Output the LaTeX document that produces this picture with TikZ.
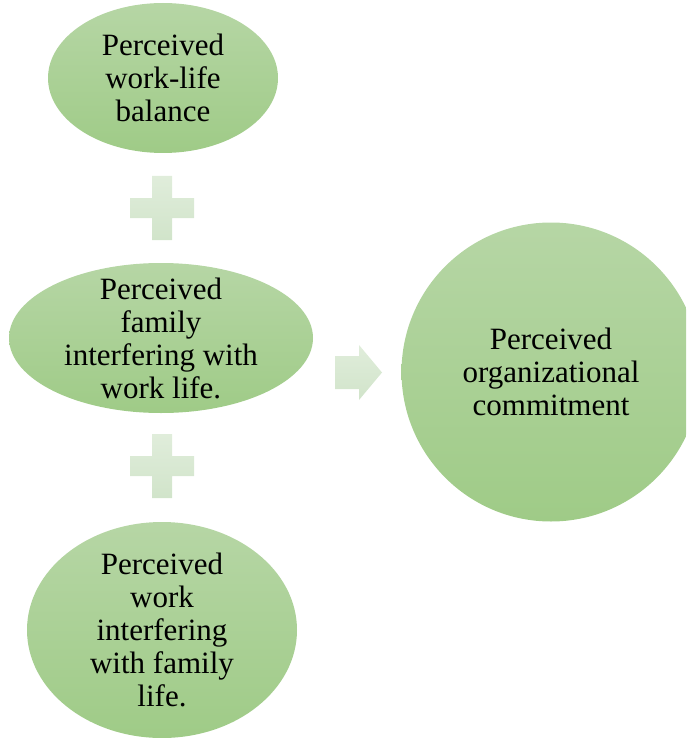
\documentclass[tikz,border=0pt]{standalone}
\usepackage{fontspec}
\setmainfont{Liberation Serif}
\usetikzlibrary{shapes,positioning}
\definecolor{blobtop}{RGB}{182,214,165}
\definecolor{blobbot}{RGB}{159,203,135}
\definecolor{signtop}{RGB}{224,237,219}
\definecolor{signbot}{RGB}{209,228,202}
\newcommand{\armlen}{32}
\newcommand{\armwid}{10}
\tikzset{
    bubble/.style = {ellipse, inner sep = 0pt, top color = blobtop, bottom color = blobbot},
    bubtext/.style = {align = center, font = \fontsize{31}{33}\selectfont},
    sign/.style = {top color = signtop, bottom color = signbot}
}

\begin{document}
\begin{tikzpicture}[x=1pt,y=-1pt]
            \path[use as bounding box, clip] (0,0) rectangle (686,738);
            % the three factors
            \node[bubble, minimum width=230pt, minimum height=150pt] (wlb) at (163,78) {};
            \node[bubble, minimum width=304pt, minimum height=150pt] (fiw) at (161,338) {};
            \node[bubble, minimum width=270pt, minimum height=216pt] (wif) at (162,630) {};
            \node[bubble, minimum width=299pt, minimum height=299pt] (oc) at (551,372) {};
            
            \node[bubtext] at (wlb) {Perceived\\work-life\\balance};
            \node[bubtext] at (fiw) {Perceived\\family\\interfering with\\work life.};
            \node[bubtext] at (wif) {Perceived\\work\\interfering\\with family\\life.};
            \node[bubtext] at (oc) {Perceived\\organizational\\commitment};
            
            % plus signs
            \foreach \cy in {208,466}
                \path[sign] (162-\armwid,\cy-\armlen) -- (162+\armwid,\cy-\armlen) -- (162+\armwid,\cy-\armwid)
                    -- (162+\armlen,\cy-\armwid) -- (162+\armlen,\cy+\armwid) -- (162+\armwid,\cy+\armwid)
                    -- (162+\armwid,\cy+\armlen) -- (162-\armwid,\cy+\armlen) -- (162-\armwid,\cy+\armwid)
                    -- (162-\armlen,\cy+\armwid) -- (162-\armlen,\cy-\armwid) -- (162-\armwid,\cy-\armwid) -- cycle;
            
            % arrow
            \path[sign] (335,356) -- (359,356) -- (359,345) -- (382,372.5) -- (359,400) -- (359,389) -- (335,389) -- cycle;
        \end{tikzpicture}
\end{document}
